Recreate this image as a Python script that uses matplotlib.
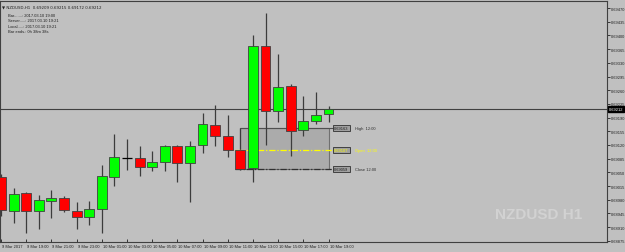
import matplotlib
matplotlib.use("Agg")
import matplotlib.pyplot as plt
import matplotlib.transforms as mtransforms
from matplotlib.patches import Rectangle

plt.rcParams['font.family'] = ['Liberation Sans', 'DejaVu Sans']

# hourly NZDUSD candles, 9 Mar 17:00 .. 10 Mar 19:00
opens = [0.69038, 0.68951, 0.68997, 0.68951, 0.68977, 0.68985, 0.68951, 0.68936, 0.68956,
         0.69038, 0.69087, 0.69087, 0.69064, 0.69077, 0.69117, 0.69074, 0.69120, 0.69171,
         0.69143, 0.69107, 0.69061, 0.69373, 0.69207, 0.69271, 0.69158, 0.69181, 0.69199]
highs = [0.69045, 0.69010, 0.69000, 0.68992, 0.69005, 0.68990, 0.68974, 0.68977, 0.69069,
         0.69148, 0.69135, 0.69117, 0.69105, 0.69120, 0.69120, 0.69130, 0.69202, 0.69222,
         0.69197, 0.69163, 0.69401, 0.69457, 0.69352, 0.69276, 0.69245, 0.69255, 0.69220]
lows = [0.68939, 0.68921, 0.68895, 0.68905, 0.68933, 0.68949, 0.68905, 0.68916, 0.68895,
        0.69015, 0.69056, 0.69041, 0.69054, 0.69054, 0.69025, 0.68974, 0.69100, 0.69117,
        0.69089, 0.69056, 0.69025, 0.69120, 0.69179, 0.69092, 0.69143, 0.69174, 0.69179]
closes = [0.68954, 0.68995, 0.68951, 0.68979, 0.68985, 0.68954, 0.68936, 0.68956, 0.69041,
          0.69089, 0.69087, 0.69064, 0.69077, 0.69117, 0.69074, 0.69117, 0.69174, 0.69143,
          0.69107, 0.69059, 0.69373, 0.69207, 0.69268, 0.69156, 0.69181, 0.69197, 0.69212]

time_labels = ["9 Mar 2017", "9 Mar 19:00", "9 Mar 21:00", "9 Mar 23:00", "10 Mar 01:00",
               "10 Mar 03:00", "10 Mar 05:00", "10 Mar 07:00", "10 Mar 09:00", "10 Mar 11:00",
               "10 Mar 13:00", "10 Mar 15:00", "10 Mar 17:00", "10 Mar 19:00"]

price_ticks = [0.69470, 0.69435, 0.69400, 0.69365, 0.69330, 0.69295, 0.69260, 0.69225,
               0.69190, 0.69155, 0.69120, 0.69085, 0.69050, 0.69015, 0.68980, 0.68945,
               0.68910, 0.68875]

bid = 0.69212
box_bar = 19
box_levels = [0.69163, 0.69107, 0.69059]
box_names = ["High  12:00", "Open  12:00", "Close 12:00"]

header = ["NZDUSD,H1  0.69209 0.69215 0.69172 0.69212",
          "Bar.......: 2017.03.10 19:00",
          "Server.....: 2017.03.10 19:21",
          "Local.....: 2017.03.10 19:21",
          "Bar ends.: 0h 38m 38s"]

BG = "#c0c0c0"
FS = 2.9

fig = plt.figure(figsize=(6.25, 2.53), dpi=100, facecolor=BG)
ax = fig.add_axes([0.0, 10 / 253, 607 / 625, 241 / 253], facecolor=BG)

# range box for the 12:00 bar
last = len(closes) - 1
ax.add_patch(Rectangle((box_bar, box_levels[2]), last - box_bar, box_levels[0] - box_levels[2],
                       facecolor="#ababab", edgecolor="#707070", linewidth=0.8, zorder=1))
ax.hlines(box_levels[0], box_bar, last + 0.4, color="#505050", linewidth=0.8, zorder=1)
ax.hlines(box_levels[1], box_bar - 0.4, last + 0.4, color="#ffff00", linewidth=0.9,
          linestyle=(0, (5, 1.5, 1, 1.5)), zorder=3)
ax.hlines(box_levels[2], box_bar - 0.4, last + 0.4, color="#303030", linewidth=0.9,
          linestyle=(0, (5, 1.5, 1, 1.5)), zorder=3)

label_colors = ["#202020", "#ffff00", "#202020"]
for lvl, name, col in zip(box_levels, box_names, label_colors):
    ax.text(last + 0.45, lvl, "%.5f" % lvl, fontsize=FS, color=col, va="center", ha="left",
            bbox=dict(boxstyle="square,pad=0.3", facecolor="#a0a0a0", edgecolor="#303030",
                      linewidth=0.6), zorder=5)
    ax.text(last + 2.1, lvl, name, fontsize=FS, color=col if col != "#202020" else "#303030",
            va="center", ha="left", zorder=5)

# bid line
ax.axhline(bid, color="#404040", linewidth=0.8, zorder=1)

# candles
idx = list(range(len(closes)))
for i in idx:
    o, h, l, c = opens[i], highs[i], lows[i], closes[i]
    ax.vlines(i, l, h, color="#3c3c3c", linewidth=0.9, zorder=2)
    if c > o:
        color = "#00ff00"
    elif c < o:
        color = "#ff0000"
    else:
        ax.hlines(o, i - 0.38, i + 0.38, color="#000000", linewidth=0.9, zorder=3)
        continue
    ax.bar(i, abs(c - o), bottom=min(o, c), width=0.78, color=color,
           edgecolor="#404040", linewidth=0.6, zorder=3)

ax.set_xlim(-0.08, 48.1)
ax.set_ylim(0.68872, 0.69488)

ax.yaxis.tick_right()
ax.set_yticks(price_ticks)
ax.set_yticklabels(["%.5f" % p for p in price_ticks])
ax.tick_params(axis="y", labelsize=FS, length=2, width=0.6, colors="#202020", pad=1)

ax.set_xticks(range(0, len(closes), 2))
ax.set_xticklabels(time_labels, ha="left")
ax.tick_params(axis="x", labelsize=FS, length=2, width=0.6, colors="#202020", pad=1.5,
               direction="in")
shift = mtransforms.ScaledTranslation(1 / 100, 0, fig.dpi_scale_trans)
for lab in ax.get_xticklabels():
    lab.set_transform(lab.get_transform() + shift)

for s in ax.spines.values():
    s.set_color("#404040")
    s.set_linewidth(0.8)

# bid label on the price scale
trans = mtransforms.blended_transform_factory(ax.transAxes, ax.transData)
ax.text(1.003, bid, "%.5f" % bid, transform=trans, fontsize=FS, color="white",
        va="center", ha="left", clip_on=False,
        bbox=dict(boxstyle="square,pad=0.2", facecolor="black", edgecolor="black"))

# watermark
ax.text(0.887, 0.115, "NZDUSD H1", transform=ax.transAxes, fontsize=11, fontweight="bold",
        family=["Liberation Sans Narrow", "Liberation Sans", "DejaVu Sans"],
        color="#d2d2d2", ha="center", va="center", zorder=0)

# header info
ax.text(0.003, 0.985, "\u25bc " + header[0], transform=ax.transAxes, fontsize=FS,
        color="#202020", va="top", ha="left", family=["DejaVu Sans"])
ax.text(0.013, 0.95, "\n".join(header[1:]), transform=ax.transAxes, fontsize=FS,
        color="#202020", va="top", ha="left", linespacing=1.45)

fig.savefig("out.png", dpi=100, facecolor=BG)
